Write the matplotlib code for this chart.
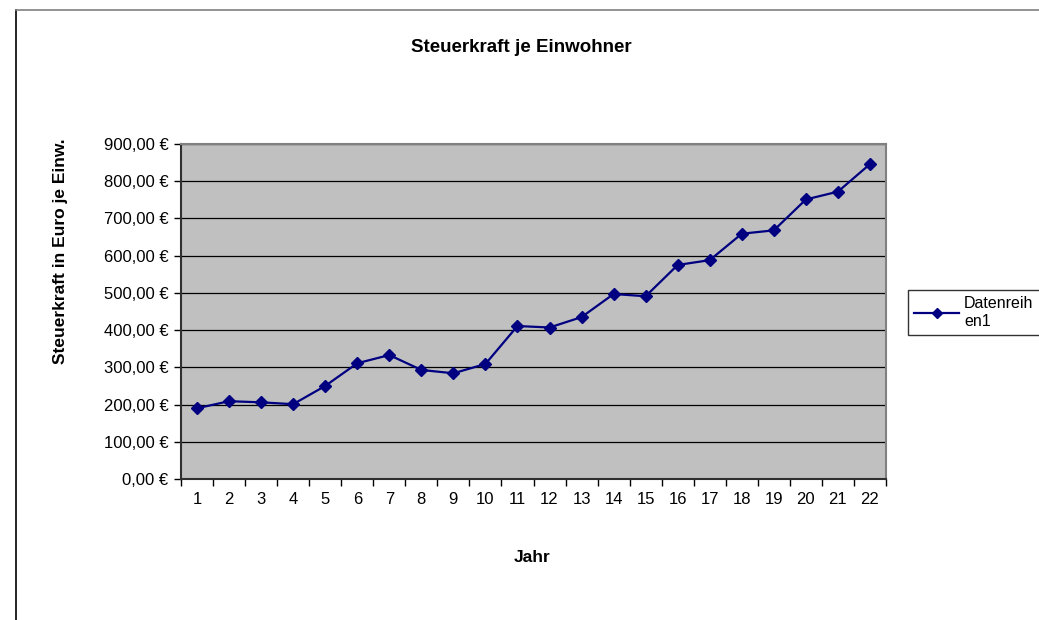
import matplotlib
matplotlib.use("Agg")
import matplotlib.pyplot as plt
from matplotlib.lines import Line2D
from matplotlib.ticker import FuncFormatter, MultipleLocator

# values
jahre = list(range(1, 23))
steuerkraft = [190, 209, 206, 201, 250, 311, 333, 293, 284, 309, 411,
               407, 435, 497, 491, 575, 588, 659, 668, 751, 772, 846]
serie_name = "Datenreih\nen1"

plt.rcParams["font.family"] = ["Liberation Sans", "DejaVu Sans"]

W, H = 1039, 620
fig = plt.figure(figsize=(W / 100, H / 100), dpi=100)

# outer chart frame (runs off the right and bottom edge)
fig.add_artist(Line2D([16 / W, 16 / W], [0, 1 - 10 / H], transform=fig.transFigure,
                      color="black", lw=1.2))
fig.add_artist(Line2D([16 / W, 1], [1 - 10 / H, 1 - 10 / H], transform=fig.transFigure,
                      color="#808080", lw=1.2))

ax = fig.add_axes([181 / W, 1 - 479 / H, (886 - 181) / W, (479 - 144) / H])
ax.set_facecolor("#C0C0C0")

ax.plot(jahre, steuerkraft, color="#000080", lw=1.6, marker="D", ms=6.5,
        markeredgecolor="#000080", label=serie_name, zorder=3)

ax.set_xlim(0.5, 22.5)
ax.set_ylim(0, 900)
ax.yaxis.set_major_locator(MultipleLocator(100))
ax.yaxis.set_major_formatter(FuncFormatter(lambda v, p: f"{v:,.2f} €".replace(".", ",")))
ax.set_xticks(jahre)
ax.set_xticks([j + 0.5 for j in range(0, 23)], minor=True)
ax.tick_params(axis="x", which="major", length=0, pad=9, labelsize=12)
ax.tick_params(axis="x", which="minor", length=5, width=1, direction="out")
ax.tick_params(axis="y", length=5, width=1, direction="out", labelsize=12, pad=4)
ax.grid(axis="y", color="black", lw=0.9)
ax.set_axisbelow(True)

for s in ["top", "right"]:
    ax.spines[s].set_color("#808080")
    ax.spines[s].set_linewidth(1.5)
for s in ["left", "bottom"]:
    ax.spines[s].set_color("#303030")
    ax.spines[s].set_linewidth(1.5)

fig.text(521 / W, 1 - 48 / H, "Steuerkraft je Einwohner", ha="center", va="center",
         fontsize=13.5, fontweight="bold")
fig.text(532 / W, 1 - 557 / H, "Jahr", ha="center", va="center",
         fontsize=12.5, fontweight="bold")
fig.text(60 / W, 1 - 251 / H, "Steuerkraft in Euro je Einw.", ha="center", va="center",
         rotation=90, fontsize=12.5, fontweight="bold")

leg = ax.legend(loc="upper left", bbox_to_anchor=(908 / W, 1 - 290 / H),
                bbox_transform=fig.transFigure, frameon=True, fancybox=False,
                fontsize=11.5, handlelength=2.8, borderpad=0.4, labelspacing=0.2,
                handletextpad=0.3, borderaxespad=0, markerscale=0.75)
leg.get_frame().set_edgecolor("black")
leg.get_frame().set_linewidth(1)

fig.savefig("out.png", dpi=100)
